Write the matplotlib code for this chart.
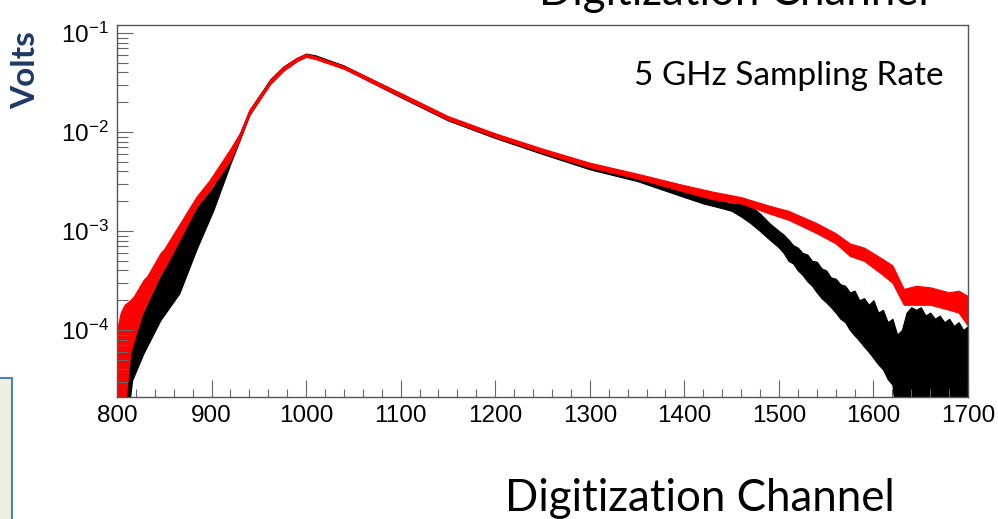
import matplotlib
matplotlib.use("Agg")
import matplotlib.pyplot as plt
import matplotlib.ticker as mticker
from matplotlib.patches import Rectangle

plt.rcParams['font.family'] = ['Liberation Sans', 'DejaVu Sans']
plt.rcParams['mathtext.fontset'] = 'custom'
plt.rcParams['mathtext.rm'] = 'Liberation Sans'
plt.rcParams['mathtext.it'] = 'Liberation Sans:italic'
plt.rcParams['mathtext.default'] = 'regular'

# pulse envelopes (volts) per digitization channel: lower / upper edge of the band
black_channel = [810, 816, 828, 846, 866, 884, 902, 920, 930, 940, 962, 976, 990, 1000,
                 1010, 1040, 1100, 1150, 1200, 1250, 1300, 1350, 1400, 1420, 1440, 1450,
                 1460, 1470, 1480, 1490, 1500, 1505, 1510, 1515, 1520, 1525, 1530, 1535,
                 1540, 1545, 1550, 1555, 1560, 1565, 1570, 1575, 1580, 1585, 1590, 1595,
                 1600, 1605, 1610, 1615, 1620, 1625, 1630, 1635, 1640, 1645, 1650, 1655,
                 1660, 1665, 1670, 1675, 1680, 1685, 1690, 1695, 1700]
black_low = [1e-5, 3.1e-5, 5.8e-5, 1.26e-4, 2.35e-4, 6.5e-4, 1.63e-3, 4.8e-3, 8.4e-3, 0.0148,
             0.031, 0.042, 0.052, 0.058, 0.0555, 0.044, 0.0225, 0.0131, 0.0087, 0.0060,
             0.0042, 0.0032, 0.0022, 0.0019, 0.0017, 0.0016,
             0.0014, 0.0012, 0.0010, 0.00082, 0.00068, 0.00060, 0.00050, 0.00047, 0.00040,
             0.00036, 0.00031, 0.00028, 0.00024, 0.00021, 0.00019, 0.00017, 0.00015,
             0.00013, 0.00012, 0.00010, 8.8e-5, 7.8e-5, 6.8e-5, 6.0e-5, 5.2e-5, 4.5e-5,
             4.0e-5, 3.2e-5, 2.8e-5, 1e-5, 1e-5, 1e-5, 1e-5, 1e-5, 1e-5, 1e-5,
             1e-5, 1e-5, 1e-5, 1e-5, 1e-5, 1e-5, 1e-5, 1e-5, 1e-5]
black_high = [6e-5, 8e-5, 1.5e-4, 3.5e-4, 8e-4, 1.7e-3, 2.8e-3, 5.6e-3, 9.6e-3, 0.0165,
              0.034, 0.046, 0.056, 0.062, 0.0595, 0.047, 0.0245, 0.0142, 0.0095, 0.0066,
              0.0047, 0.0036, 0.0027, 0.0023, 0.0020, 0.0019,
              0.0019, 0.0018, 0.0015, 0.0012, 0.0010, 0.00092, 0.00082, 0.00072, 0.00068,
              0.00060, 0.00058, 0.00050, 0.00049, 0.00042, 0.00040, 0.00034, 0.00033,
              0.00029, 0.00028, 0.00024, 0.00025, 0.00020, 0.00021, 0.00018, 0.00020,
              0.00015, 0.00016, 0.00012, 0.00013, 9e-5, 1.0e-4, 1.5e-4, 1.7e-4, 1.6e-4,
              1.7e-4, 1.4e-4, 1.5e-4, 1.3e-4, 1.4e-4, 1.2e-4, 1.3e-4, 1.1e-4, 1.2e-4,
              1.0e-4, 1.1e-4]

red_channel = [800, 804, 808, 814, 818, 828, 832, 846, 850, 863, 884, 898, 920, 930, 940,
               962, 976, 990, 1000, 1010, 1040, 1100, 1150, 1200, 1250, 1300, 1350, 1400,
               1430, 1460, 1490, 1510, 1540, 1560, 1575, 1590, 1610, 1620, 1632, 1645,
               1660, 1680, 1690, 1700]
red_low = [1e-5, 1e-5, 1.5e-5, 5.8e-5, 8e-5, 1.6e-4, 1.9e-4, 3.7e-4, 4.2e-4, 7.2e-4,
           1.76e-3, 2.6e-3, 5.2e-3, 8.6e-3, 0.0150, 0.0305, 0.0415, 0.052, 0.0575, 0.0545,
           0.0435, 0.0228, 0.0133, 0.0089, 0.0062, 0.0044, 0.0034, 0.0025, 0.0021, 0.0019,
           0.0015, 0.0013, 0.00095, 0.00075, 0.00056, 0.00050, 0.00036, 0.00030, 0.00018,
           0.00018, 0.00018, 0.00016, 0.00015, 0.00011]
red_high = [1.0e-4, 1.5e-4, 1.8e-4, 2.0e-4, 2.2e-4, 3.2e-4, 3.5e-4, 6.0e-4, 6.6e-4, 1.05e-3,
            2.22e-3, 3.27e-3, 6.8e-3, 9.8e-3, 0.0168, 0.0335, 0.0455, 0.056, 0.0615, 0.058,
            0.0465, 0.0248, 0.0145, 0.0097, 0.0068, 0.0049, 0.0038, 0.0029, 0.0025, 0.0022,
            0.0018, 0.0016, 0.0012, 0.00095, 0.00075, 0.00068, 0.00052, 0.00045, 0.00026,
            0.00028, 0.00027, 0.00024, 0.00025, 0.00022]

fig = plt.figure(figsize=(9.98, 5.19), dpi=100)
ax = fig.add_axes([0.1172, 0.236, 0.8528, 0.7158])

ax.fill_between(black_channel, black_low, black_high, color='black', lw=0.8)
ax.fill_between(red_channel, red_low, red_high, color='red', lw=0.8)

ax.set_yscale('log')
ax.set_xlim(800, 1700)
ax.set_ylim(2.13e-5, 0.1205)

ax.xaxis.set_major_locator(mticker.MultipleLocator(100))
ax.xaxis.set_minor_locator(mticker.MultipleLocator(20))
ax.yaxis.set_major_locator(mticker.LogLocator(base=10))
ax.yaxis.set_minor_locator(mticker.LogLocator(base=10, subs=range(2, 10)))
ax.yaxis.set_minor_formatter(mticker.NullFormatter())

ax.tick_params(which='both', direction='in', colors='#666666', labelcolor='black',
               width=0.8, top=False, right=False)
ax.tick_params(axis='x', which='major', length=12, pad=6, labelsize=17.5)
ax.tick_params(axis='x', which='minor', length=6)
ax.tick_params(axis='y', which='major', length=11.5, pad=6, labelsize=17.5)
ax.tick_params(axis='y', which='minor', length=8)
for sp in ax.spines.values():
    sp.set_color('#555555')
    sp.set_linewidth(1.0)

fig.text(0.026, 0.865, "Volts", rotation=90, ha='center', va='center',
         fontsize=24, fontweight='bold', color='#1F3864', family='Lato')
fig.text(0.945, 0.836, "5 GHz Sampling Rate", ha='right', va='baseline',
         fontsize=24, family='Lato')
fig.text(0.897, 0.016, "Digitization Channel", ha='right', va='baseline',
         fontsize=31.5, family='Lato')
fig.text(0.931, 0.990, "Digitization Channel", ha='right', va='baseline',
         fontsize=31.5, family='Lato')

fig.patches.append(Rectangle((-0.01, -0.01), 0.022, 0.2817, transform=fig.transFigure,
                             facecolor='#EBF1DE', edgecolor='#4F81BD', lw=1.5))

fig.savefig("out.png", dpi=100)
